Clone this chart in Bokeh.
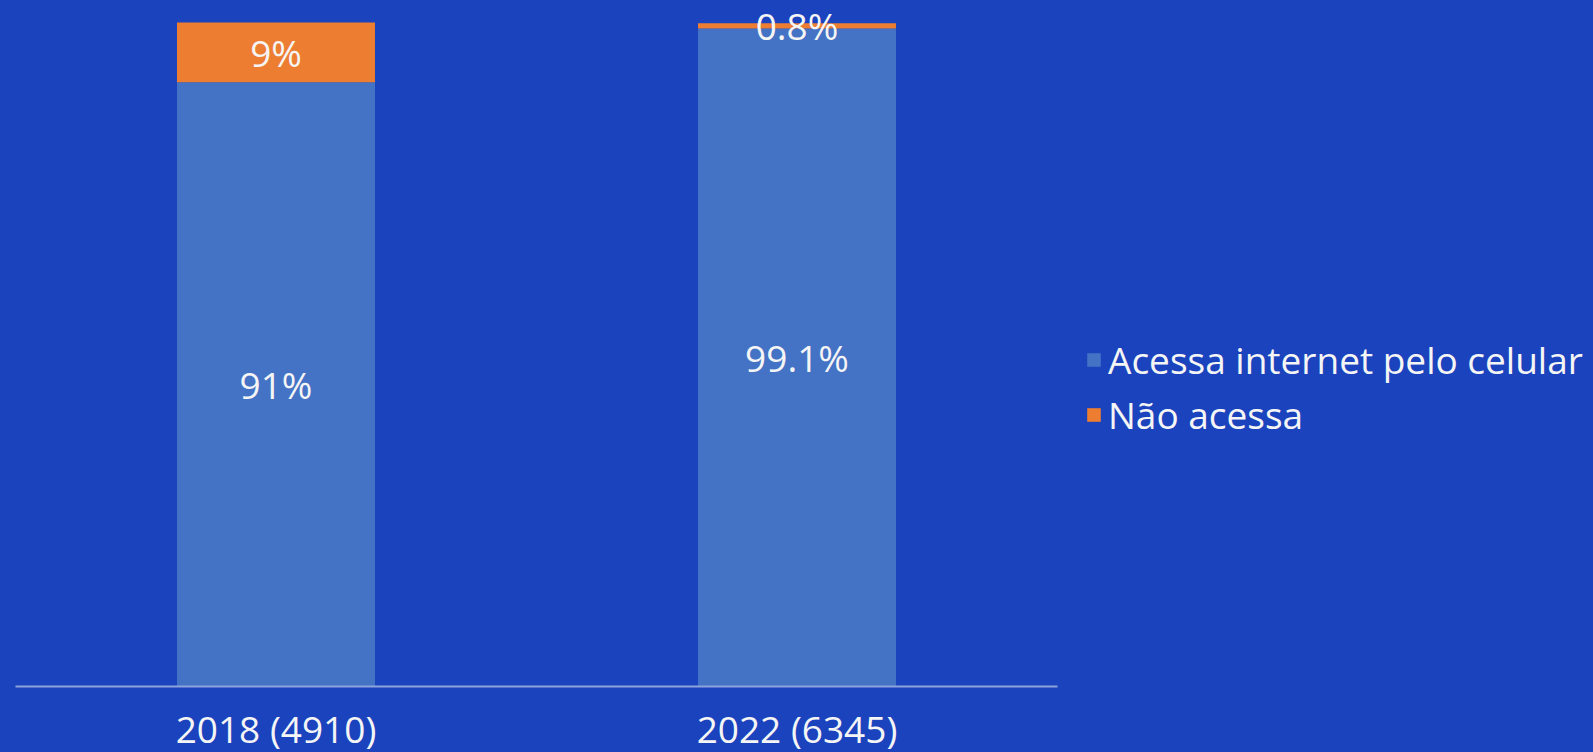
from bokeh.plotting import figure
from bokeh.models import Range1d, FactorRange, Legend, LegendItem, ColumnDataSource
from bokeh.core.properties import value
from bokeh.embed import file_html
from bokeh.resources import INLINE

categories = ["2018 (4910)", "2022 (6345)"]
acessa = [91, 99.1]
nao = [9, 0.8]
acessa_labels = ["91%", "99.1%"]
nao_labels = ["9%", "0.8%"]
series_names = ["Acessa internet pelo celular", "Não acessa"]

BG = "#1b43bd"
BLUE = "#4472c4"
ORANGE = "#ed7d31"
FONT = "Open Sans"

src = ColumnDataSource(dict(
    cat=categories,
    acessa=acessa,
    nao=nao,
    y_a=[a / 2 for a in acessa],
    y_n=[a + n / 2 for a, n in zip(acessa, nao)],
    lab_a=acessa_labels,
    lab_n=nao_labels,
))

p = figure(frame_width=1042, frame_height=686, x_range=FactorRange(*categories, range_padding=0),
           y_range=Range1d(0, 100 * 686 / 664), output_backend="svg", toolbar_location=None,
           min_border_left=15, min_border_right=0, min_border_top=0, min_border_bottom=0)
p.background_fill_alpha = 0
p.border_fill_alpha = 0
p.outline_line_color = None
p.grid.visible = False
p.yaxis.visible = False

r = p.vbar_stack(["acessa", "nao"], x="cat", width=0.38, color=[BLUE, ORANGE],
                 line_color=None, source=src)

p.text(x="cat", y="y_a", text="lab_a", source=src, text_align="center", text_baseline="middle",
       text_color="#f5f5f5", text_font=value(FONT), text_font_size="37px")
p.text(x="cat", y="y_n", text="lab_n", source=src, text_align="center", text_baseline="middle",
       text_color="#f5f5f5", text_font=value(FONT), text_font_size="37px")

ax = p.xaxis[0]
ax.axis_line_color = "#8fa2dc"
ax.axis_line_width = 2
ax.major_tick_line_color = None
ax.minor_tick_line_color = None
ax.major_label_text_color = "#f5f5f5"
ax.major_label_text_font = FONT
ax.major_label_text_font_size = "37px"
ax.major_label_standoff = 10

legend = Legend(items=[LegendItem(label=series_names[0], renderers=[r[0]]),
                       LegendItem(label=series_names[1], renderers=[r[1]])],
                location=(28, 246))
legend.background_fill_alpha = 0
legend.border_line_color = None
legend.padding = 0
legend.margin = 0
legend.spacing = 4
legend.glyph_width = 17
legend.glyph_height = 17
legend.label_standoff = 6
legend.label_width = 480
legend.label_text_color = "#f5f5f5"
legend.label_text_font = FONT
legend.label_text_font_size = "37px"
p.add_layout(legend, "right")

html = file_html(p, INLINE)
style = "<style>html, body { margin: 0; padding: 0; background-color: %s !important; }</style>" % BG
html = html.replace("</head>", style + "</head>", 1)
open("out.html", "w").write(html)
